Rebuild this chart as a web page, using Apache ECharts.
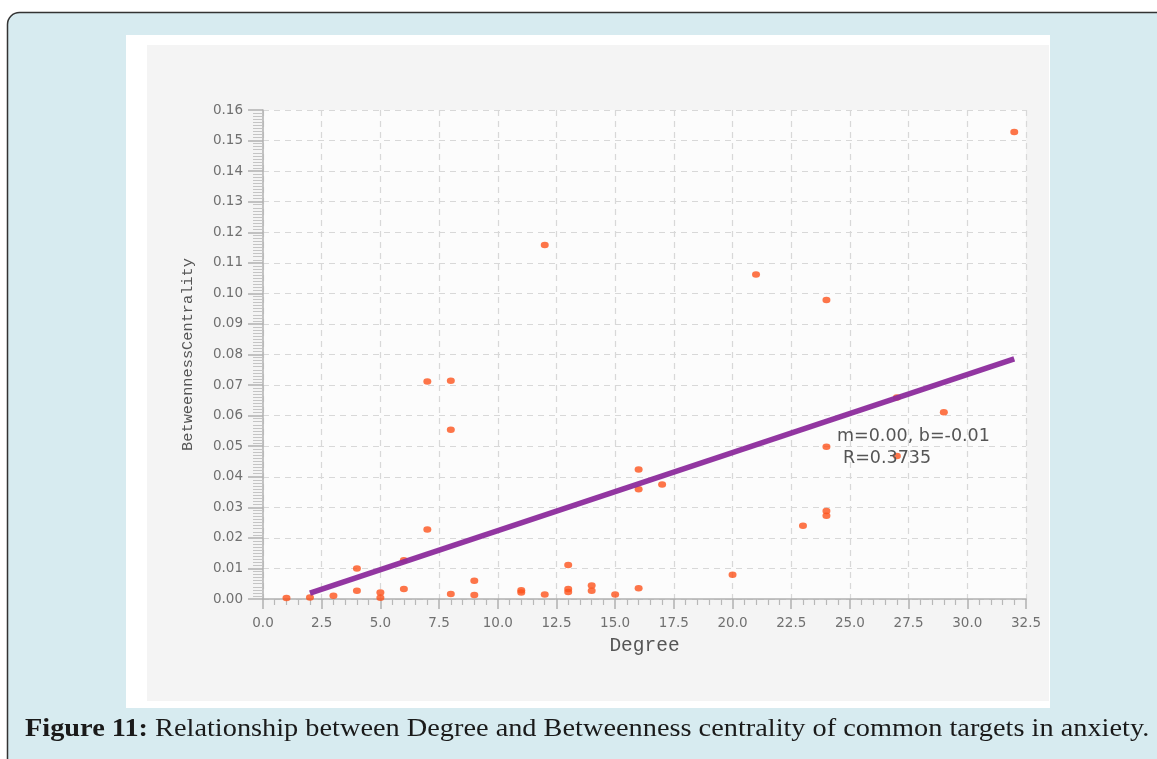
<!DOCTYPE html>
<html>
<head>
<meta charset="utf-8">
<script src="https://cdn.jsdelivr.net/npm/echarts@6/dist/echarts.min.js"></script>
<style>
html,body{margin:0;padding:0;background:#ffffff;}
#chart{width:1157px;height:759px;}
</style>
</head>
<body>
<div id="chart"></div>
<script>
// Data
var degree = [1, 2, 3, 4, 4, 5, 5, 6, 6, 7, 7, 8, 8, 8, 9, 9, 11, 11, 12, 12, 13, 13, 13, 14, 14, 15, 16, 16, 16, 17, 20, 21, 23, 24, 24, 24, 24, 27, 27, 29, 32];
var betweenness = [0.0003, 0.0005, 0.0011, 0.0100, 0.0027, 0.0021, 0.0004, 0.0127, 0.0033, 0.0712, 0.0227, 0.0714, 0.0554, 0.0016, 0.0060, 0.0013, 0.0029, 0.0021, 0.1158, 0.0015, 0.0111, 0.0033, 0.0023, 0.0044, 0.0027, 0.0015, 0.0424, 0.0359, 0.0035, 0.0375, 0.0079, 0.1062, 0.0240, 0.0978, 0.0498, 0.0288, 0.0272, 0.0659, 0.0468, 0.0611, 0.1528];
var fitX = [2, 32];
var fitY = [0.00195, 0.0786];
var fitText = ['m=0.00, b=-0.01', 'R=0.3735'];
var xName = 'Degree';
var yName = 'BetweennessCentrality';
var captionBold = 'Figure 11:';
var captionText = ' Relationship between Degree and Betweenness centrality of common targets in anxiety.';

var points = degree.map(function (d, i) { return [d, betweenness[i]]; });
var fitLine = fitX.map(function (d, i) { return [d, fitY[i]]; });

var chart = echarts.init(document.getElementById('chart'), null, {renderer: 'canvas'});
var tickFont = {color: '#707070', fontSize: 13.5, fontFamily: 'DejaVu Sans'};
chart.setOption({
  backgroundColor: '#ffffff',
  animation: false,
  graphic: [
    {type: 'rect', z: -10, shape: {x: 7.5, y: 12.5, width: 1175, height: 765, r: 12},
     style: {fill: '#d7ebf0', stroke: '#333333', lineWidth: 1.5}},
    {type: 'rect', z: -9, shape: {x: 126, y: 35, width: 924, height: 673},
     style: {fill: '#ffffff'}},
    {type: 'rect', z: -8, shape: {x: 147, y: 45, width: 902, height: 656},
     style: {fill: '#f4f4f4'}},
    {type: 'text', z: 10, left: 837, top: 427,
     style: {text: fitText[0], fill: '#555555', fontSize: 17.5, fontFamily: 'DejaVu Sans'}},
    {type: 'text', z: 10, left: 843, top: 449,
     style: {text: fitText[1], fill: '#555555', fontSize: 17.5, fontFamily: 'DejaVu Sans'}},
    {type: 'text', z: 10, x: 25, y: 717, scaleX: 1.133, scaleY: 1.0,
     style: {
       text: '{b|' + captionBold + '}{n|' + captionText + '}',
       rich: {
         b: {fontWeight: 'bold', fontSize: 25, fontFamily: 'Liberation Serif', fill: '#1a1a1a', color: '#1a1a1a'},
         n: {fontSize: 25, fontFamily: 'Liberation Serif', fill: '#1a1a1a', color: '#1a1a1a'}
       }
     }}
  ],
  grid: {left: 263, top: 110, right: 131, bottom: 160, show: true, backgroundColor: '#fcfcfc', borderWidth: 0},
  xAxis: {
    type: 'value', min: 0, max: 32.5, interval: 2.5,
    name: xName, nameLocation: 'middle', nameGap: 37,
    nameTextStyle: {color: '#555555', fontSize: 19.5, fontFamily: 'Liberation Mono'},
    axisLine: {show: true, onZero: false, lineStyle: {color: '#b0b0b0', width: 1.5}},
    axisTick: {show: true, length: 10, lineStyle: {color: '#b0b0b0', width: 1.5}},
    minorTick: {show: true, splitNumber: 5, length: 6, lineStyle: {color: '#b8b8b8', width: 1.2}},
    axisLabel: Object.assign({margin: 17, formatter: function (v) { return v.toFixed(1); }}, tickFont),
    splitLine: {show: true, lineStyle: {color: '#d8d8d8', type: [6, 5], width: 1.2}}
  },
  yAxis: {
    type: 'value', min: 0, max: 0.16, interval: 0.01,
    name: yName, nameLocation: 'middle', nameGap: 68, nameRotate: 90,
    nameTextStyle: {color: '#555555', fontSize: 15.3, fontFamily: 'Liberation Mono'},
    axisLine: {show: true, onZero: false, lineStyle: {color: '#b0b0b0', width: 1.5}},
    axisTick: {show: true, length: 15, lineStyle: {color: '#b0b0b0', width: 1.5}},
    minorTick: {show: true, splitNumber: 10, length: 10, lineStyle: {color: '#c4c4c4', width: 1}},
    axisLabel: Object.assign({margin: 20, formatter: function (v) { return v.toFixed(2); }}, tickFont),
    splitLine: {show: true, lineStyle: {color: '#d8d8d8', type: [6, 5], width: 1.2}}
  },
  series: [
    {type: 'scatter', data: points, symbol: 'circle', symbolSize: [8, 6.5], z: 2,
     itemStyle: {color: '#fc531b'}},
    {type: 'line', data: fitLine, symbol: 'none', z: 3,
     lineStyle: {color: '#8c2b9c', width: 5.5, opacity: 0.95}}
  ]
});
</script>
</body>
</html>
